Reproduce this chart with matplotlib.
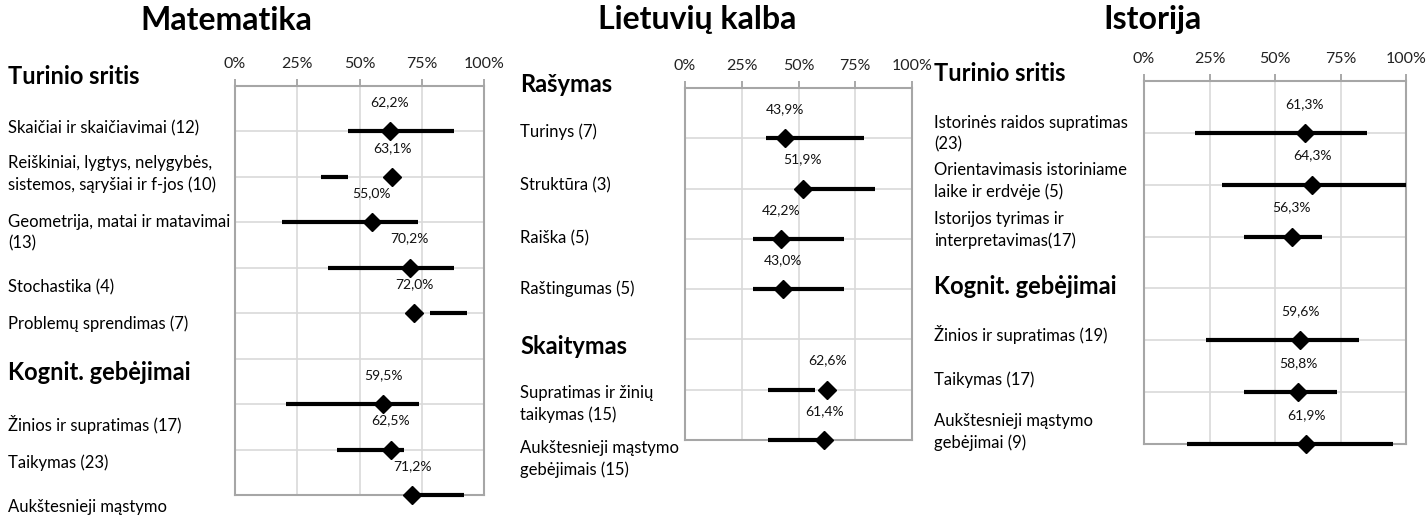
import matplotlib
matplotlib.use("Agg")
import matplotlib.pyplot as plt

plt.rcParams['font.family'] = ['Lato', 'DejaVu Sans']

W, H = 1427, 518

# ---- data (None = group header row, no point) ----
titles = ["Matematika", "Lietuvių kalba", "Istorija"]

math_mean = [62.2, 63.1, 55.0, 70.2, 72.0, None, 59.5, 62.5, 71.2]
math_low = [45.5, 34.5, 18.7, 37.2, 78.3, None, 20.4, 41.1, 71.2]
math_high = [88.0, 45.5, 73.6, 88.0, 93.3, None, 73.9, 67.9, 92.0]
math_labels = ["Turinio sritis",
               "Skaičiai ir skaičiavimai (12)",
               "Reiškiniai, lygtys, nelygybės,\nsistemos, sąryšiai ir f-jos (10)",
               "Geometrija, matai ir matavimai\n(13)",
               "Stochastika (4)",
               "Problemų sprendimas (7)",
               "Kognit. gebėjimai",
               "Žinios ir supratimas (17)",
               "Taikymas (23)",
               "Aukštesnieji mąstymo"]

lt_mean = [43.9, 51.9, 42.2, 43.0, None, 62.6, 61.4]
lt_low = [35.5, 51.9, 29.8, 29.8, None, 36.4, 36.4]
lt_high = [78.9, 83.7, 70.2, 70.2, None, 57.3, 61.4]
lt_labels = ["Rašymas",
             "Turinys (7)",
             "Struktūra (3)",
             "Raiška (5)",
             "Raštingumas (5)",
             "Skaitymas",
             "Supratimas ir žinių\ntaikymas (15)",
             "Aukštesnieji mąstymo\ngebėjimais (15)"]

ist_mean = [61.3, 64.3, 56.3, None, 59.6, 58.8, 61.9]
ist_low = [19.4, 29.9, 38.1, None, 23.6, 38.1, 16.5]
ist_high = [85.1, 100.0, 68.1, None, 81.9, 73.8, 94.9]
ist_labels = ["Turinio sritis",
              "Istorinės raidos supratimas\n(23)",
              "Orientavimasis istoriniame\nlaike ir erdvėje (5)",
              "Istorijos tyrimas ir\ninterpretavimas(17)",
              "Kognit. gebėjimai",
              "Žinios ir supratimas (19)",
              "Taikymas (17)",
              "Aukštesnieji mąstymo\ngebėjimai (9)"]

xticks = [0, 25, 50, 75, 100]

# ---- layout in pixels ----
# axes box: left, right, top, bottom
boxes = [(235, 484, 86, 495), (685, 912, 88, 440), (1144, 1406, 81, 444)]
title_x = [226, 697, 1153]
label_x = [8, 520, 934]
# y (px from top) of first line of each label
label_y = [
    [77, 128, 163, 222, 287, 324, 373, 425, 463, 507],
    [85, 132, 185, 238, 289, 347, 393, 448],
    [74, 123, 170, 219, 287, 335, 380, 421],
]
headers = [[0, 6], [0, 5], [0, 4]]
line_step = 21.5

fig = plt.figure(figsize=(W / 100, H / 100), dpi=100)

panels = [(math_mean, math_low, math_high, math_labels),
          (lt_mean, lt_low, lt_high, lt_labels),
          (ist_mean, ist_low, ist_high, ist_labels)]

for p, (mean, low, high, labels) in enumerate(panels):
    l, r, t, b = boxes[p]
    ax = fig.add_axes([l / W, 1 - b / H, (r - l) / W, (b - t) / H])
    n = len(mean)
    ax.set_xlim(0, 100)
    ax.set_ylim(n, 0)
    ax.set_xticks(xticks)
    ax.set_xticklabels([f"{v}%" for v in xticks], fontsize=11.5, color='#222222')
    ax.xaxis.tick_top()
    ax.tick_params(axis='x', direction='out', length=5, width=1.2,
                   color='#999999', pad=6)
    ax.set_yticks(range(1, n + 1))
    ax.tick_params(axis='y', length=0, labelleft=False)
    ax.grid(True, color='#d9d9d9', lw=1.2)
    ax.set_axisbelow(True)
    for s in ax.spines.values():
        s.set_color('#a6a6a6')
        s.set_linewidth(1.5)

    for i, m in enumerate(mean):
        if m is None:
            continue
        y = i + 1
        ax.plot([low[i], high[i]], [y, y], color='black', lw=3,
                solid_capstyle='butt', clip_on=False, zorder=3)
        ax.plot(m, y, marker='D', ms=9.5, color='black', clip_on=False, zorder=4)
        ax.annotate(f"{m:.1f}%".replace('.', ','), (m, y), xytext=(0, 21),
                    textcoords='offset points', ha='center', va='center',
                    fontsize=10, color='#111111', annotation_clip=False)

    fig.text(title_x[p] / W, 1 - 20 / H, titles[p], ha='center', va='center',
             fontsize=23, fontweight='bold')
    for k, txt in enumerate(labels):
        bold = k in headers[p]
        for j, line in enumerate(txt.split('\n')):
            y_px = label_y[p][k] + j * line_step
            fig.text(label_x[p] / W, 1 - y_px / H, line, ha='left', va='center',
                     fontsize=17 if bold else 12,
                     fontweight='bold' if bold else 'normal', color='black')

fig.savefig("out.png", dpi=100)
